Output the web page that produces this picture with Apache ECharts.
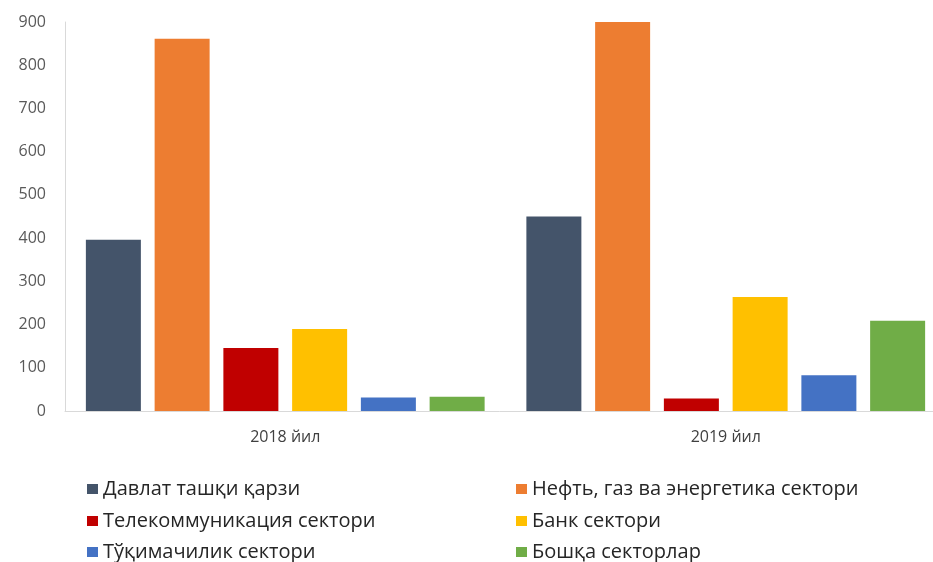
<!DOCTYPE html>
<html>
<head>
<meta charset="utf-8">
<script src="https://cdn.jsdelivr.net/npm/echarts@6/dist/echarts.min.js"></script>
<style>html,body{margin:0;padding:0;background:#fff}#c{width:933px;height:562px}</style>
</head>
<body>
<div id="c"></div>
<script>
var categories = ['2018 йил', '2019 йил'];
var seriesNames = ['Давлат ташқи қарзи', 'Нефть, газ ва энергетика сектори', 'Телекоммуникация сектори', 'Банк сектори', 'Тўқимачилик сектори', 'Бошқа секторлар'];
var davlat = [396, 450];
var neft = [861, 900];
var telekom = [146, 29];
var bank = [190, 264];
var tuqima = [31, 83];
var boshqa = [33, 209];
var yTicks = [0, 100, 200, 300, 400, 500, 600, 700, 800, 900];
var colors = ['#44546A', '#ED7D31', '#C00000', '#FFC000', '#4472C4', '#70AD47'];
var values = [davlat, neft, telekom, bank, tuqima, boshqa];

var chart = echarts.init(document.getElementById('c'), null, {renderer: 'canvas'});
var font = 'Open Sans';
var series = seriesNames.map(function (n, i) {
  return {
    name: n, type: 'bar', data: values[i], barWidth: 55, barGap: '25%',
    itemStyle: {color: colors[i]}
  };
});
var legendPos = [[87, 479], [516, 479], [87, 511], [516, 511], [87, 542], [516, 542]];
var legends = seriesNames.map(function (n, i) {
  return {
    left: legendPos[i][0], top: legendPos[i][1], padding: 0,
    data: [n], icon: 'rect', itemWidth: 11, itemHeight: 10,
    textStyle: {fontFamily: font, fontSize: 20, color: '#262626', lineHeight: 20},
    selectedMode: false
  };
});
chart.setOption({
  animation: false,
  backgroundColor: '#fff',
  color: colors,
  grid: {left: 65, top: 22, height: 389, width: 881, right: 'auto', outerBoundsMode: 'none', containLabel: false},
  legend: legends,
  xAxis: {
    type: 'category', data: categories,
    axisLine: {lineStyle: {color: '#D9D9D9'}},
    axisTick: {show: false},
    axisLabel: {fontFamily: font, fontSize: 16, color: '#404040', margin: 18}
  },
  yAxis: {
    type: 'value', min: 0, max: 900, interval: 100,
    axisLine: {show: true, lineStyle: {color: '#D9D9D9'}},
    axisTick: {show: false},
    splitLine: {show: false},
    axisLabel: {fontFamily: font, fontSize: 16, color: '#595959', margin: 19,
      formatter: function (v) { return yTicks.indexOf(v) >= 0 ? String(v) : ''; }}
  },
  series: series
});
</script>
</body>
</html>
